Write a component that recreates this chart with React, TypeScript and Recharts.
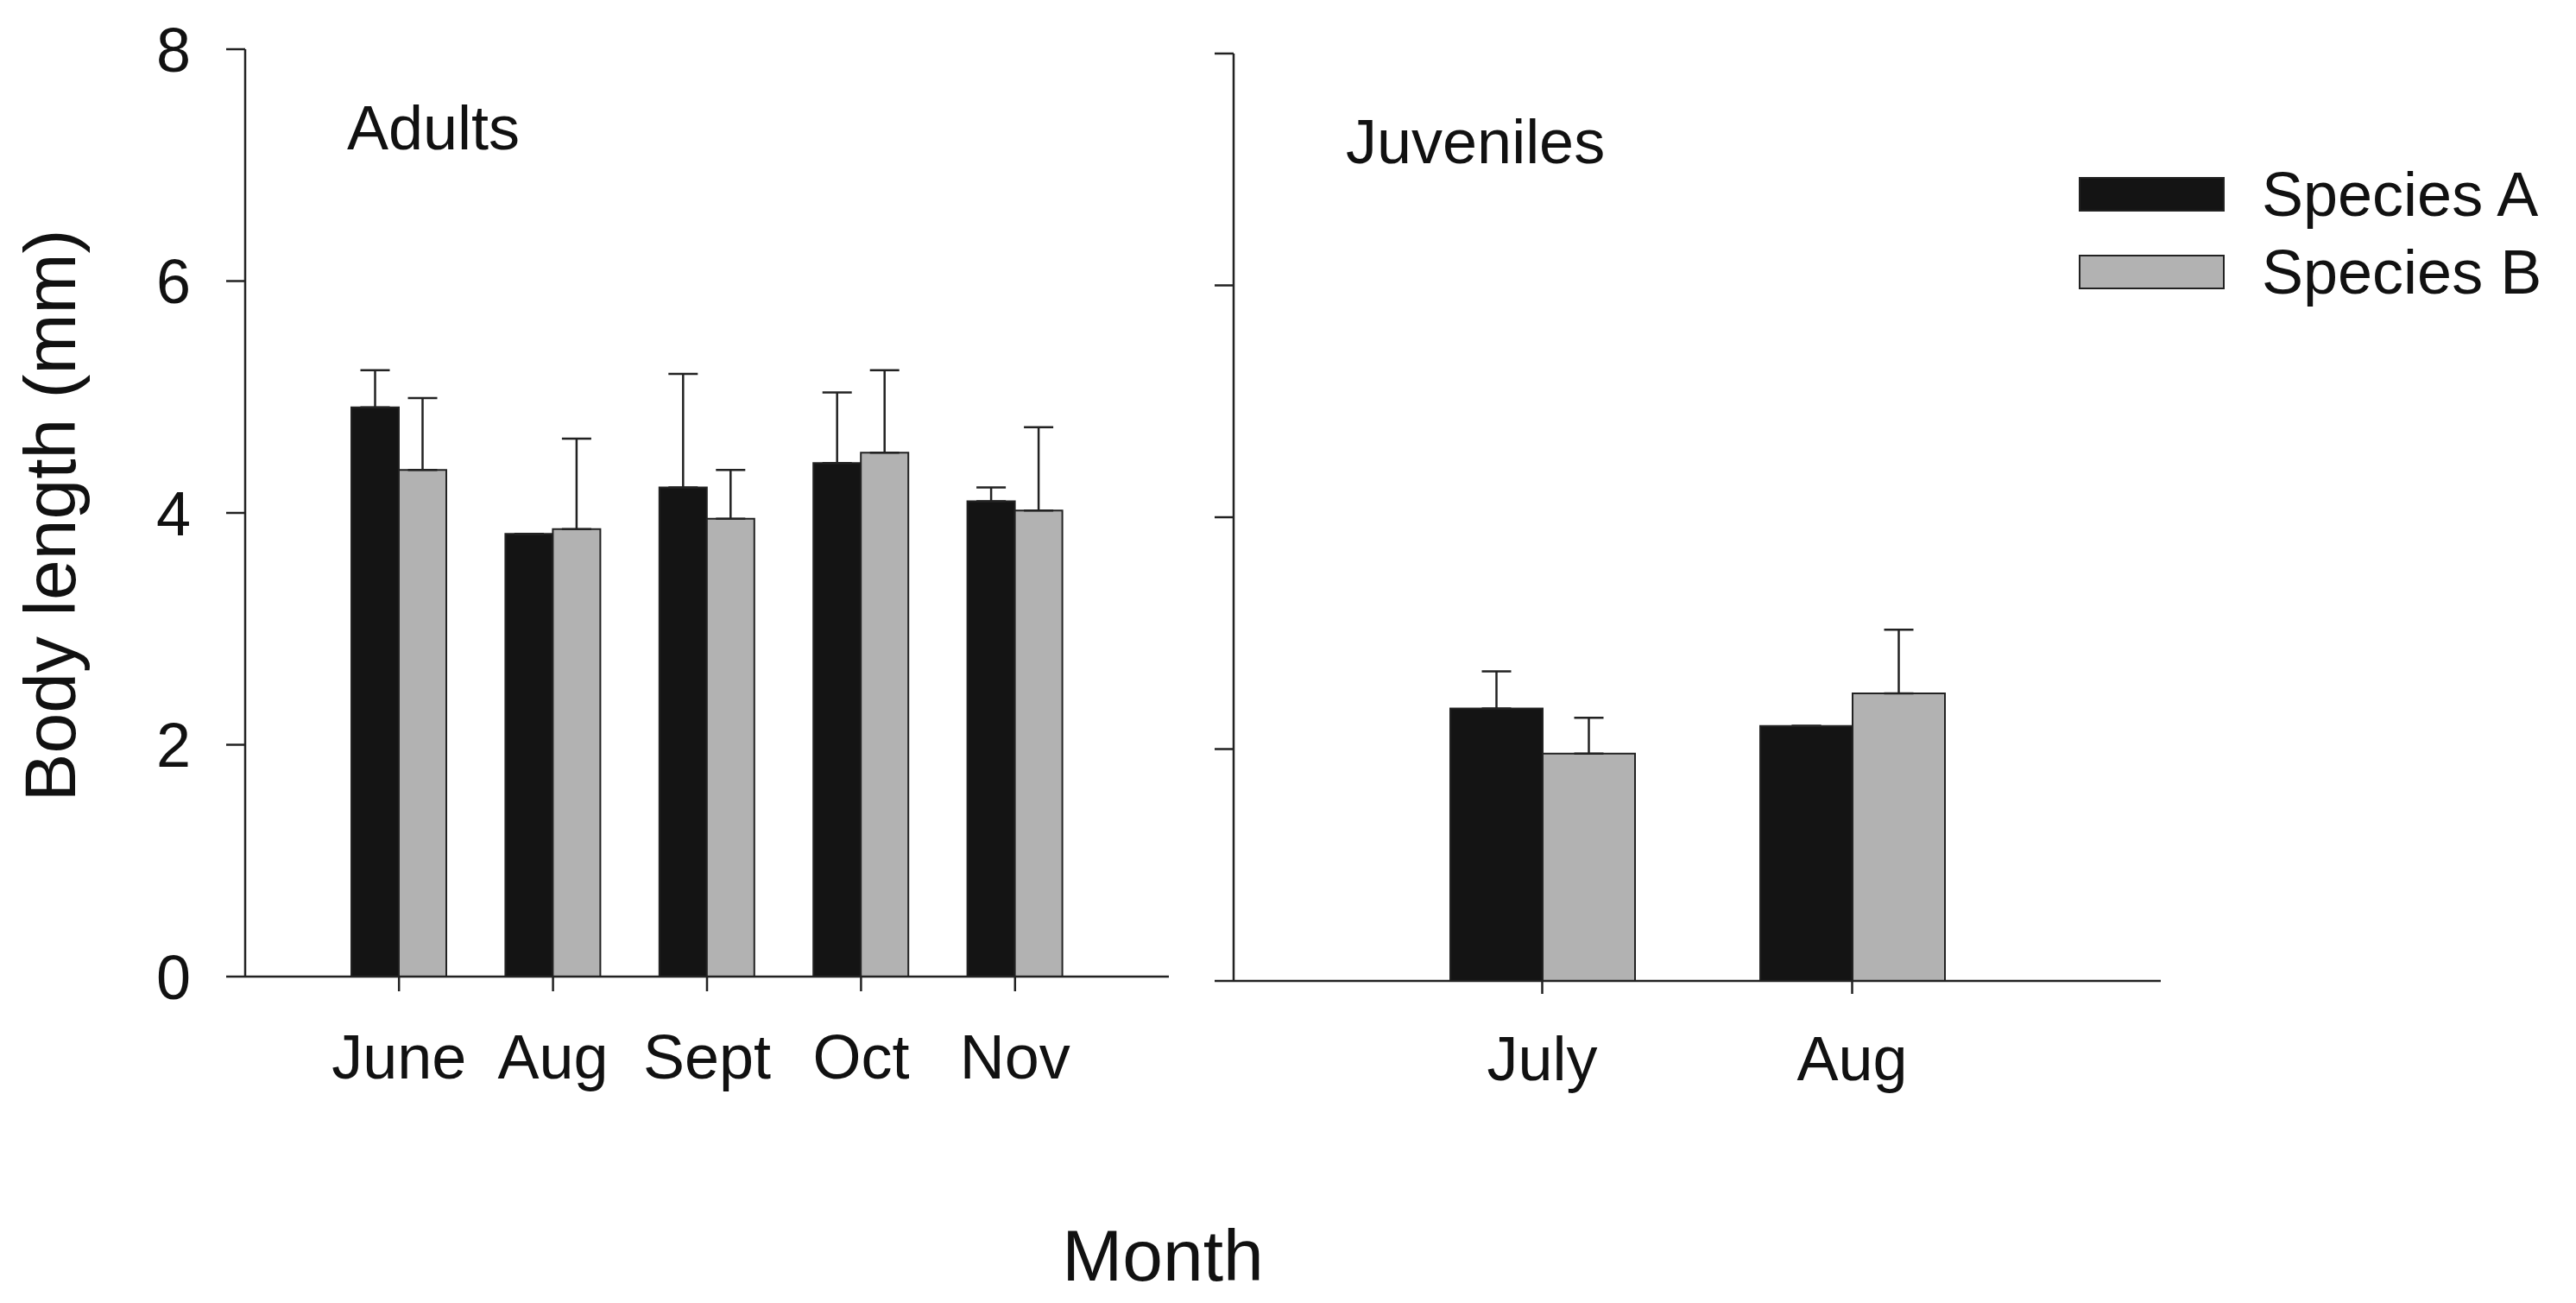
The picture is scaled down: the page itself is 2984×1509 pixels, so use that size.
import React from "react";
import { BarChart, Bar, XAxis, YAxis, ErrorBar, Legend } from "recharts";

// values (mm)
const adultMonths = ["June", "Aug", "Sept", "Oct", "Nov"];
const adultA = [4.91, 3.82, 4.22, 4.43, 4.1];
const adultB = [4.37, 3.86, 3.95, 4.52, 4.02];
const adultErrA = [0.32, 0, 0.98, 0.61, 0.12];
const adultErrB = [0.62, 0.78, 0.42, 0.71, 0.72];

const juvMonths = ["July", "Aug"];
const juvA = [2.35, 2.2];
const juvB = [1.96, 2.48];
const juvErrA = [0.32, 0];
const juvErrB = [0.31, 0.55];

const yTicks = [0, 2, 4, 6, 8];

const FONT = "'Liberation Sans', Arial, Helvetica, sans-serif";
const INK = "#111";
const LINE = "#222";
const BLACK = "#141414";
const GRAY = "#b2b2b2";

const buildRows = (months: string[], a: number[], b: number[], ea: number[], eb: number[]) =>
  months.map((m, i) => ({
    month: m,
    a: a[i],
    b: b[i],
    errA: [0, ea[i]],
    errB: [0, eb[i]],
  }));

const adultRows = buildRows(adultMonths, adultA, adultB, adultErrA, adultErrB);
const juvRows = buildRows(juvMonths, juvA, juvB, juvErrA, juvErrB);

const axisLine = { stroke: LINE, strokeWidth: 2.5 };
const tickText = { fill: INK, fontSize: 72, fontFamily: FONT };

const LegendBoxes = (props: any) => {
  const { payload = [] } = props;
  return (
    <div style={{ fontFamily: FONT }}>
      {payload.map((p: any, i: number) => (
        <div
          key={i}
          style={{ display: "flex", alignItems: "center", height: 38, marginBottom: 52 }}
        >
          <div
            style={{
              width: 165,
              height: 36,
              background: p.color,
              border: `2px solid ${LINE}`,
              boxSizing: "content-box",
            }}
          />
          <span style={{ marginLeft: 43, fontSize: 72, color: INK, lineHeight: "38px", whiteSpace: "nowrap" }}>
            {p.value}
          </span>
        </div>
      ))}
    </div>
  );
};

export default function App() {
  return (
    <div style={{ position: "absolute", left: 0, top: 0, width: 2984, height: 1509, background: "#fff" }}>
      <div style={{ position: "absolute", left: 0, top: 0 }}>
        <BarChart
          width={1400}
          height={1509}
          data={adultRows}
          margin={{ top: 57, right: 46, left: 0, bottom: 228 }}
          barGap={0}
        >
          <XAxis
            dataKey="month"
            height={150}
            padding={{ left: 89, right: 89 }}
            axisLine={axisLine}
            tickLine={axisLine}
            tickSize={17}
            tickMargin={50}
            tick={tickText}
            interval={0}
          />
          <YAxis
            domain={[0, 8]}
            ticks={yTicks}
            width={284}
            axisLine={axisLine}
            tickLine={axisLine}
            tickSize={22}
            tickMargin={41}
            tick={tickText}
          />
          <Bar dataKey="a" name="Species A" fill={BLACK} stroke={LINE} strokeWidth={2} barSize={55} isAnimationActive={false}>
            <ErrorBar dataKey="errA" direction="y" width={17} stroke={LINE} strokeWidth={2.5} isAnimationActive={false} />
          </Bar>
          <Bar dataKey="b" name="Species B" fill={GRAY} stroke={LINE} strokeWidth={2} barSize={55} isAnimationActive={false}>
            <ErrorBar dataKey="errB" direction="y" width={17} stroke={LINE} strokeWidth={2.5} isAnimationActive={false} />
          </Bar>
        </BarChart>
      </div>

      <div style={{ position: "absolute", left: 1400, top: 0 }}>
        <BarChart
          width={1584}
          height={1509}
          data={juvRows}
          margin={{ top: 62, right: 481, left: 0, bottom: 223 }}
          barGap={0}
        >
          <XAxis
            dataKey="month"
            height={150}
            padding={{ left: 178, right: 178 }}
            axisLine={axisLine}
            tickLine={axisLine}
            tickSize={15}
            tickMargin={49}
            tick={tickText}
            interval={0}
          />
          <YAxis
            domain={[0, 8]}
            ticks={yTicks}
            width={29}
            axisLine={axisLine}
            tickLine={axisLine}
            tickSize={22}
            tickFormatter={() => ""}
          />
          <Legend
            layout="vertical"
            align="center"
            verticalAlign="middle"
            content={<LegendBoxes />}
            wrapperStyle={{ left: 1008, top: 206, width: "auto", height: "auto" }}
          />
          <Bar dataKey="a" name="Species A" fill={BLACK} stroke={LINE} strokeWidth={2} barSize={107} isAnimationActive={false}>
            <ErrorBar dataKey="errA" direction="y" width={17} stroke={LINE} strokeWidth={2.5} isAnimationActive={false} />
          </Bar>
          <Bar dataKey="b" name="Species B" fill={GRAY} stroke={LINE} strokeWidth={2} barSize={107} isAnimationActive={false}>
            <ErrorBar dataKey="errB" direction="y" width={17} stroke={LINE} strokeWidth={2.5} isAnimationActive={false} />
          </Bar>
        </BarChart>
      </div>

      <svg
        width={2984}
        height={1509}
        style={{ position: "absolute", left: 0, top: 0, pointerEvents: "none" }}
        fontFamily={FONT}
        fill={INK}
      >
        <text x={402} y={173} fontSize={72}>Adults</text>
        <text x={1559} y={189} fontSize={72}>Juveniles</text>
        <text x={1347} y={1483} fontSize={84} textAnchor="middle">Month</text>
        <text transform="translate(87,597) rotate(-90)" fontSize={84} textAnchor="middle">
          Body length (mm)
        </text>
      </svg>
    </div>
  );
}
